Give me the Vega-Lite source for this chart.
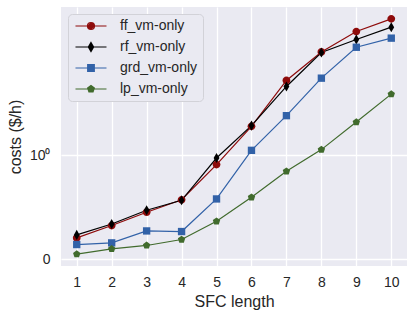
{
  "$schema": "https://vega.github.io/schema/vega-lite/v6.json",
  "width": 346,
  "height": 259,
  "autosize": "none",
  "padding": {"left": 61, "top": 7, "right": 8, "bottom": 49},
  "background": "white",
  "data": {
    "values": [
      {"len": 1, "series": "ff_vm-only", "cost": 0.205},
      {"len": 2, "series": "ff_vm-only", "cost": 0.324},
      {"len": 3, "series": "ff_vm-only", "cost": 0.452},
      {"len": 4, "series": "ff_vm-only", "cost": 0.572},
      {"len": 5, "series": "ff_vm-only", "cost": 0.911},
      {"len": 6, "series": "ff_vm-only", "cost": 1.279},
      {"len": 7, "series": "ff_vm-only", "cost": 1.721},
      {"len": 8, "series": "ff_vm-only", "cost": 1.995},
      {"len": 9, "series": "ff_vm-only", "cost": 2.56},
      {"len": 10, "series": "ff_vm-only", "cost": 2.99},
      {"len": 1, "series": "rf_vm-only", "cost": 0.234},
      {"len": 2, "series": "rf_vm-only", "cost": 0.339},
      {"len": 3, "series": "rf_vm-only", "cost": 0.471},
      {"len": 4, "series": "rf_vm-only", "cost": 0.567},
      {"len": 5, "series": "rf_vm-only", "cost": 0.974},
      {"len": 6, "series": "rf_vm-only", "cost": 1.286},
      {"len": 7, "series": "rf_vm-only", "cost": 1.663},
      {"len": 8, "series": "rf_vm-only", "cost": 1.99},
      {"len": 9, "series": "rf_vm-only", "cost": 2.32},
      {"len": 10, "series": "rf_vm-only", "cost": 2.7},
      {"len": 1, "series": "grd_vm-only", "cost": 0.141},
      {"len": 2, "series": "grd_vm-only", "cost": 0.157},
      {"len": 3, "series": "grd_vm-only", "cost": 0.272},
      {"len": 4, "series": "grd_vm-only", "cost": 0.266},
      {"len": 5, "series": "grd_vm-only", "cost": 0.58},
      {"len": 6, "series": "grd_vm-only", "cost": 1.048},
      {"len": 7, "series": "grd_vm-only", "cost": 1.382},
      {"len": 8, "series": "grd_vm-only", "cost": 1.743},
      {"len": 9, "series": "grd_vm-only", "cost": 2.11},
      {"len": 10, "series": "grd_vm-only", "cost": 2.36},
      {"len": 1, "series": "lp_vm-only", "cost": 0.048},
      {"len": 2, "series": "lp_vm-only", "cost": 0.099},
      {"len": 3, "series": "lp_vm-only", "cost": 0.132},
      {"len": 4, "series": "lp_vm-only", "cost": 0.189},
      {"len": 5, "series": "lp_vm-only", "cost": 0.365},
      {"len": 6, "series": "lp_vm-only", "cost": 0.596},
      {"len": 7, "series": "lp_vm-only", "cost": 0.846},
      {"len": 8, "series": "lp_vm-only", "cost": 1.055},
      {"len": 9, "series": "lp_vm-only", "cost": 1.32},
      {"len": 10, "series": "lp_vm-only", "cost": 1.589}
    ]
  },
  "encoding": {
    "x": {
      "field": "len", "type": "quantitative", "title": "SFC length",
      "scale": {"domain": [0.55, 10.45], "nice": false, "zero": false},
      "axis": {"values": [1, 2, 3, 4, 5, 6, 7, 8, 9, 10], "format": "d", "labelPadding": 9, "titlePadding": 4}
    },
    "y": {
      "field": "cost", "type": "quantitative", "title": "costs ($/h)",
      "scale": {
        "type": "linear",
        "domain": [-0.0657, 2, 2.25, 2.5, 2.75, 3, 3.25, 3.459],
        "range": [259, 44.47, 34.9, 26.36, 18.62, 11.55, 5.06, 0],
        "zero": false, "nice": false
      },
      "axis": {
        "values": [0, 1],
        "labelExpr": "datum.value == 0 ? '0' : '10⁰'",
        "labelPadding": 11,
        "titlePadding": 6
      }
    },
    "color": {
      "field": "series", "type": "nominal",
      "scale": {"domain": ["ff_vm-only", "rf_vm-only", "grd_vm-only", "lp_vm-only"], "range": ["#8E0B0B", "#000000", "#3262A8", "#416B2D"]},
      "legend": {
        "title": null,
        "orient": "top-left",
        "offset": 7,
        "padding": 5,
        "rowPadding": 7,
        "labelOffset": 33,
        "symbolSize": 49,
        "symbolStrokeWidth": 1.2,
        "symbolOpacity": 1
      }
    }
  },
  "layer": [
    {
      "mark": {"type": "point", "filled": true, "size": 49, "opacity": 0},
      "encoding": {
        "stroke": {
          "field": "series", "type": "nominal",
          "scale": {"domain": ["ff_vm-only", "rf_vm-only", "grd_vm-only", "lp_vm-only"], "range": ["#8E0B0B", "#000000", "#3262A8", "#416B2D"]}
        },
        "shape": {
          "field": "series", "type": "nominal",
          "scale": {
            "domain": ["ff_vm-only", "rf_vm-only", "grd_vm-only", "lp_vm-only"],
            "range": [
              "M-1.29,0H7.57M4.14,0A1,1,0,1,1,2.14,0A1,1,0,1,1,4.14,0ZM3.81,0A0.67,0.67,0,1,1,2.47,0A0.67,0.67,0,1,1,3.81,0ZM3.48,0A0.34,0.34,0,1,1,2.8,0A0.34,0.34,0,1,1,3.48,0Z",
              "M-1.29,0H7.57M3.14,-1.3L3.89,0L3.14,1.3L2.39,0ZM3.14,-0.78L3.59,0L3.14,0.78L2.69,0ZM3.14,-0.33L3.33,0L3.14,0.33L2.95,0ZM3.14,-1.3V1.3",
              "M-1.29,0H7.57M2.19,-0.95H4.09V0.95H2.19ZM2.52,-0.62H3.76V0.62H2.52ZM2.85,-0.29H3.43V0.29H2.85Z",
              "M-1.29,0H7.57M3.14,-1L4.091,-0.309L3.728,0.809L2.552,0.809L2.189,-0.309ZM3.14,-0.65L3.758,-0.201L3.522,0.526L2.758,0.526L2.522,-0.201ZM3.14,-0.3L3.425,-0.093L3.316,0.243L2.964,0.243L2.855,-0.093Z"
            ]
          }
        }
      }
    },
    {
      "mark": {"type": "line", "strokeWidth": 1.2}
    },
    {
      "transform": [{"filter": "datum.series === 'ff_vm-only'"}],
      "mark": {"type": "point", "filled": true, "size": 60, "opacity": 1, "shape": "M1,0A1,1,0,1,1,-1,0A1,1,0,1,1,1,0Z"}
    },
    {
      "transform": [{"filter": "datum.series === 'rf_vm-only'"}],
      "mark": {"type": "point", "filled": true, "size": 60, "opacity": 1, "shape": "M0,-1.3L0.75,0L0,1.3L-0.75,0Z"}
    },
    {
      "transform": [{"filter": "datum.series === 'grd_vm-only'"}],
      "mark": {"type": "point", "filled": true, "size": 60, "opacity": 1, "shape": "M-0.95,-0.95H0.95V0.95H-0.95Z"}
    },
    {
      "transform": [{"filter": "datum.series === 'lp_vm-only'"}],
      "mark": {"type": "point", "filled": true, "size": 60, "opacity": 1, "shape": "M0,-1L0.951,-0.309L0.588,0.809L-0.588,0.809L-0.951,-0.309Z"}
    }
  ],
  "config": {
    "view": {"fill": "#EAEAF2", "stroke": null},
    "font": "Liberation Sans",
    "axis": {
      "domain": false,
      "ticks": false,
      "grid": true,
      "gridColor": "#FFFFFF",
      "gridWidth": 1.3,
      "labelFont": "Liberation Sans",
      "labelFontSize": 14,
      "labelColor": "#262626",
      "titleFont": "Liberation Sans",
      "titleFontSize": 16,
      "titleFontWeight": "normal",
      "titleColor": "#262626"
    },
    "legend": {
      "labelFont": "Liberation Sans",
      "labelFontSize": 14,
      "labelColor": "#262626",
      "fillColor": "#EAEAF2",
      "strokeColor": "#D2D2D8",
      "strokeWidth": 1,
      "cornerRadius": 4
    }
  }
}
